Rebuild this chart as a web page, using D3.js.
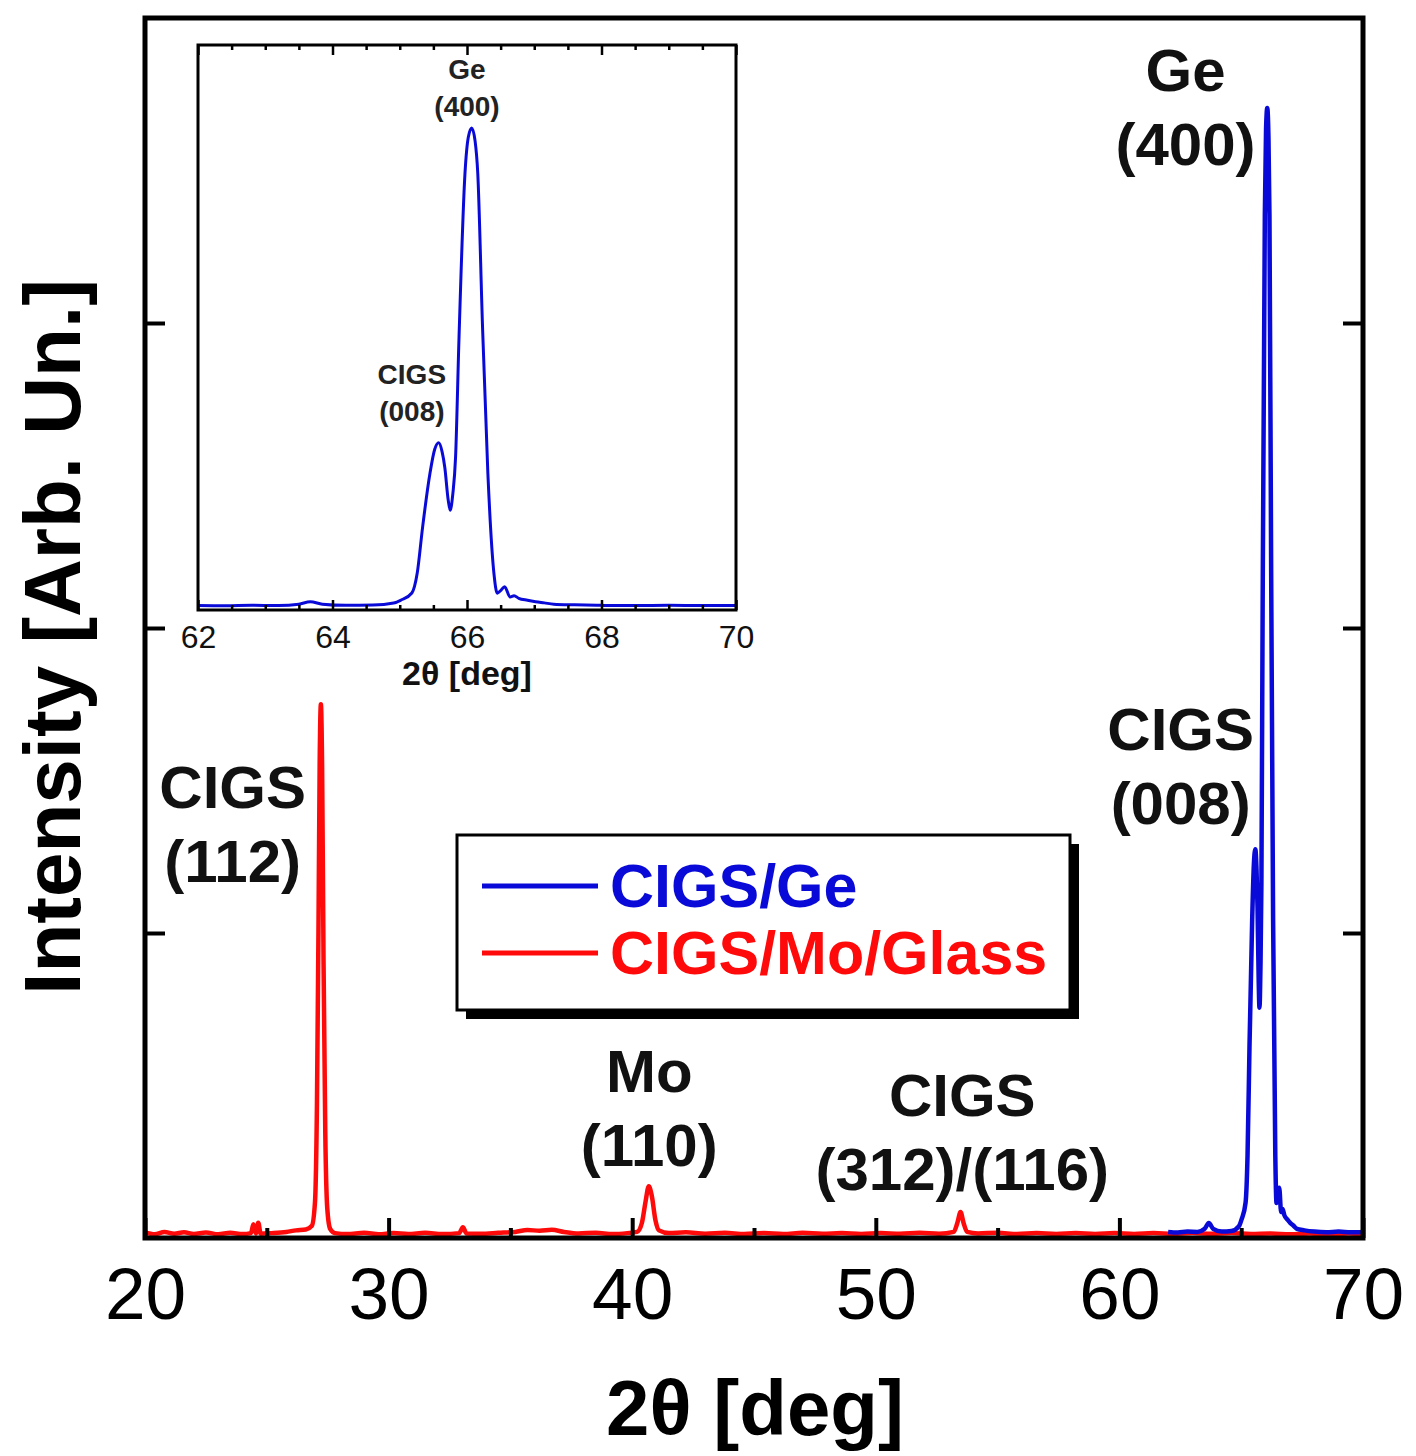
<!DOCTYPE html>
<html>
<head>
<meta charset="utf-8">
<script src="https://cdn.jsdelivr.net/npm/d3@7"></script>
<style>
  html, body { margin: 0; padding: 0; background: #fff; }
  svg { display: block; font-family: "Liberation Sans", Arial, sans-serif; }
</style>
</head>
<body>
<svg id="chart" width="1416" height="1456"></svg>
<script>
// ---------------- DATA ----------------
const redSeries = [
  [20.0,0.018],[20.4,0.012],[20.8,0.020],[21.2,0.014],[21.6,0.019],[22.0,0.013],[22.5,0.018],
  [23.0,0.012],[23.5,0.017],[24.0,0.013],[24.35,0.016],[24.45,0.045],[24.55,0.015],[24.65,0.050],
  [24.75,0.014],[25.2,0.016],[25.8,0.020],[26.2,0.025],[26.6,0.028],[26.85,0.040],[26.98,0.12],
  [27.06,0.45],[27.12,1.00],[27.17,1.55],[27.22,1.75],[27.27,1.55],[27.33,0.90],[27.40,0.35],
  [27.48,0.10],[27.6,0.030],[27.8,0.016],[28.3,0.013],[29.0,0.017],[29.6,0.012],[30.2,0.016],
  [30.8,0.013],[31.5,0.017],[32.2,0.013],[32.9,0.016],[33.05,0.035],[33.2,0.015],[33.8,0.014],
  [34.5,0.017],[35.2,0.020],[35.7,0.026],[36.2,0.024],[36.7,0.027],[37.2,0.020],[37.8,0.015],
  [38.5,0.017],[39.2,0.013],[39.8,0.016],[40.2,0.020],[40.4,0.050],[40.55,0.12],[40.68,0.17],
  [40.8,0.14],[40.95,0.060],[41.1,0.025],[41.5,0.016],[42.2,0.019],[43.0,0.014],[43.8,0.017],
  [44.6,0.013],[45.4,0.016],[46.2,0.013],[47.0,0.017],[47.8,0.014],[48.6,0.016],[49.4,0.013],
  [50.2,0.016],[51.0,0.014],[51.8,0.017],[52.6,0.014],[53.2,0.020],[53.35,0.050],[53.48,0.085],
  [53.6,0.050],[53.75,0.020],[54.2,0.015],[55.0,0.017],[55.8,0.013],[56.6,0.016],[57.4,0.013],
  [58.2,0.016],[59.0,0.013],[59.8,0.016],[60.6,0.013],[61.4,0.016],[62.2,0.013],[63.0,0.016],
  [63.8,0.014],[64.6,0.016],[65.4,0.013],[66.2,0.015],[67.0,0.012],[67.8,0.015],[68.6,0.012],
  [69.4,0.015],[70.0,0.013]
];
const blueSeries = [
  [62.0,0.020],[62.4,0.018],[62.8,0.021],[63.2,0.020],[63.5,0.030],[63.67,0.049],[63.85,0.030],
  [64.2,0.021],[64.6,0.023],[64.91,0.039],[65.02,0.062],[65.18,0.116],[65.26,0.27],[65.34,0.625],
  [65.45,1.042],[65.52,1.225],[65.58,1.275],[65.63,1.205],[65.67,1.085],[65.72,0.835],[65.75,0.755],
  [65.79,0.885],[65.83,1.165],[65.88,2.065],[65.97,3.355],[66.02,3.635],[66.07,3.705],[66.12,3.605],
  [66.16,3.355],[66.23,2.185],[66.31,1.042],[66.40,0.27],[66.45,0.115],[66.50,0.135],[66.56,0.165],
  [66.64,0.085],[66.70,0.095],[66.77,0.075],[66.90,0.060],[67.02,0.049],[67.15,0.040],[67.29,0.030],
  [67.6,0.025],[68.0,0.021],[68.5,0.019],[69.0,0.021],[69.5,0.019],[70.0,0.020]
];
const mainXTickLabels = [20, 30, 40, 50, 60, 70];
const mainXMinorTicks = [25, 35, 45, 55, 65];
const mainYTicks = [1, 2, 3];
const insetXTickLabels = [62, 64, 66, 68, 70];
const insetXMinorTicks = [62.5,63,63.5,64.5,65,65.5,66.5,67,67.5,68.5,69,69.5];
const legendLabels = ["CIGS/Ge", "CIGS/Mo/Glass"];
const mainAnnotations = [
  {lines: ["Ge", "(400)"], x: 66.0, y: 3.76},
  {lines: ["CIGS", "(008)"], x: 65.8, y: 1.6},
  {lines: ["CIGS", "(112)"], x: 23.6, y: 1.41},
  {lines: ["Mo", "(110)"], x: 40.7, y: 0.48},
  {lines: ["CIGS", "(312)/(116)"], x: 53.55, y: 0.40}
];
const insetAnnotations = [
  {lines: ["Ge", "(400)"], x: 66.0, y: 4.08},
  {lines: ["CIGS", "(008)"], x: 65.18, y: 1.73}
];

// ---------------- LAYOUT ----------------
const svg = d3.select("#chart");
const M = {left: 145, right: 1363, top: 18, bottom: 1238};
const I = {left: 198, right: 736, top: 45, bottom: 610};
const blue = "#0a0ad8", red = "#ff0a0a";
const font = "'Liberation Sans', Arial, sans-serif";

const x = d3.scaleLinear().domain([20, 70]).range([M.left, M.right]);
const y = d3.scaleLinear().domain([0, 4]).range([M.bottom, M.top]);
const xi = d3.scaleLinear().domain([62, 70]).range([I.left, I.right]);
const yi = d3.scaleLinear().domain([-0.015, 4.345]).range([I.bottom, I.top]);

const defs = svg.append("defs");
defs.append("clipPath").attr("id", "clipMain").append("rect")
  .attr("x", M.left).attr("y", M.top).attr("width", M.right - M.left).attr("height", M.bottom - M.top);
defs.append("clipPath").attr("id", "clipInset").append("rect")
  .attr("x", I.left).attr("y", I.top).attr("width", I.right - I.left).attr("height", I.bottom - I.top);

// ---------- main curves ----------
const lineMain = d3.line().x(d => x(d[0])).y(d => y(d[1])).curve(d3.curveMonotoneX);
const gMain = svg.append("g").attr("clip-path", "url(#clipMain)");
gMain.append("path").datum(redSeries).attr("d", lineMain)
  .attr("fill", "none").attr("stroke", red).attr("stroke-width", 4.5).attr("stroke-linejoin", "round");
gMain.append("path").datum(blueSeries).attr("d", lineMain)
  .attr("fill", "none").attr("stroke", blue).attr("stroke-width", 4.5).attr("stroke-linejoin", "round");

// ---------- main axes ----------
function styleAxis(g) {
  g.select(".domain").remove();
  g.selectAll(".tick line").attr("stroke", "#000").attr("stroke-width", 4);
}
svg.append("g").attr("transform", `translate(0,${M.bottom})`)
  .call(d3.axisBottom(x).tickValues(mainXTickLabels).tickSize(-20).tickPadding(29).tickFormat(d3.format("d")))
  .call(styleAxis)
  .call(g => g.selectAll("text").attr("font-size", 73).attr("font-family", font).attr("fill", "#000"));
svg.append("g").attr("transform", `translate(0,${M.bottom})`)
  .call(d3.axisBottom(x).tickValues(mainXMinorTicks).tickSize(-10).tickFormat(""))
  .call(styleAxis);
svg.append("g").attr("transform", `translate(${M.left},0)`)
  .call(d3.axisLeft(y).tickValues(mainYTicks).tickSize(-20).tickFormat(""))
  .call(styleAxis);
svg.append("g").attr("transform", `translate(${M.right},0)`)
  .call(d3.axisRight(y).tickValues(mainYTicks).tickSize(-20).tickFormat(""))
  .call(styleAxis);

svg.append("rect").attr("x", M.left).attr("y", M.top)
  .attr("width", M.right - M.left).attr("height", M.bottom - M.top)
  .attr("fill", "none").attr("stroke", "#000").attr("stroke-width", 5);

// axis titles
svg.append("text").attr("x", (M.left + M.right) / 2 + 1).attr("y", 1435)
  .attr("text-anchor", "middle").attr("font-size", 78).attr("font-weight", "bold")
  .attr("font-family", font).text("2θ [deg]");
svg.append("text").attr("transform", `translate(80,637) rotate(-90)`)
  .attr("text-anchor", "middle").attr("font-size", 80).attr("font-weight", "bold")
  .attr("font-family", font).text("Intensity [Arb. Un.]");

// main annotations
mainAnnotations.forEach(a => {
  const t = svg.append("text").attr("text-anchor", "middle").attr("font-size", 60)
    .attr("font-weight", "bold").attr("font-family", font).attr("fill", "#111");
  a.lines.forEach((l, i) => {
    t.append("tspan").attr("x", x(a.x) - (a.x > 60 ? 80 : 0)).attr("y", y(a.y) + i * 74).text(l);
  });
});

// ---------- legend ----------
const L = {x: 457, y: 835, w: 613, h: 175};
svg.append("rect").attr("x", L.x + 9).attr("y", L.y + 9).attr("width", L.w).attr("height", L.h).attr("fill", "#000");
svg.append("rect").attr("x", L.x).attr("y", L.y).attr("width", L.w).attr("height", L.h)
  .attr("fill", "#fff").attr("stroke", "#000").attr("stroke-width", 3);
const legendColors = [blue, red];
legendLabels.forEach((lab, i) => {
  const yy = 886 + i * 67;
  svg.append("line").attr("x1", 482).attr("x2", 598).attr("y1", yy).attr("y2", yy)
    .attr("stroke", legendColors[i]).attr("stroke-width", 5);
  svg.append("text").attr("x", 610).attr("y", yy + 21).attr("font-size", 61)
    .attr("font-weight", "bold").attr("font-family", font).attr("fill", legendColors[i]).text(lab);
});

// ---------- inset ----------
svg.append("rect").attr("x", I.left).attr("y", I.top).attr("width", I.right - I.left)
  .attr("height", I.bottom - I.top).attr("fill", "#fff");
const lineInset = d3.line().x(d => xi(d[0])).y(d => yi(d[1])).curve(d3.curveMonotoneX);
svg.append("g").attr("clip-path", "url(#clipInset)").append("path").datum(blueSeries)
  .attr("d", lineInset).attr("fill", "none").attr("stroke", blue).attr("stroke-width", 3)
  .attr("stroke-linejoin", "round");

function styleInsetAxis(g) {
  g.select(".domain").remove();
  g.selectAll(".tick line").attr("stroke", "#000").attr("stroke-width", 2.5);
}
svg.append("g").attr("transform", `translate(0,${I.bottom})`)
  .call(d3.axisBottom(xi).tickValues(insetXTickLabels).tickSize(-10).tickPadding(15).tickFormat(d3.format("d")))
  .call(styleInsetAxis)
  .call(g => g.selectAll("text").attr("font-size", 32).attr("font-family", font).attr("fill", "#111"));
svg.append("g").attr("transform", `translate(0,${I.bottom})`)
  .call(d3.axisBottom(xi).tickValues(insetXMinorTicks).tickSize(-5).tickFormat(""))
  .call(styleInsetAxis);
svg.append("g").attr("transform", `translate(0,${I.top})`)
  .call(d3.axisTop(xi).tickValues(insetXTickLabels).tickSize(-10).tickFormat(""))
  .call(styleInsetAxis);
svg.append("g").attr("transform", `translate(0,${I.top})`)
  .call(d3.axisTop(xi).tickValues(insetXMinorTicks).tickSize(-5).tickFormat(""))
  .call(styleInsetAxis);
svg.append("rect").attr("x", I.left).attr("y", I.top).attr("width", I.right - I.left)
  .attr("height", I.bottom - I.top).attr("fill", "none").attr("stroke", "#000").attr("stroke-width", 3);

svg.append("text").attr("x", (I.left + I.right) / 2).attr("y", 685)
  .attr("text-anchor", "middle").attr("font-size", 34).attr("font-weight", "bold")
  .attr("font-family", font).attr("fill", "#111").text("2θ [deg]");

insetAnnotations.forEach(a => {
  const t = svg.append("text").attr("text-anchor", "middle").attr("font-size", 28)
    .attr("font-weight", "bold").attr("font-family", font).attr("fill", "#222");
  a.lines.forEach((l, i) => {
    t.append("tspan").attr("x", xi(a.x)).attr("y", yi(a.y) + i * 37).text(l);
  });
});
</script>
</body>
</html>
